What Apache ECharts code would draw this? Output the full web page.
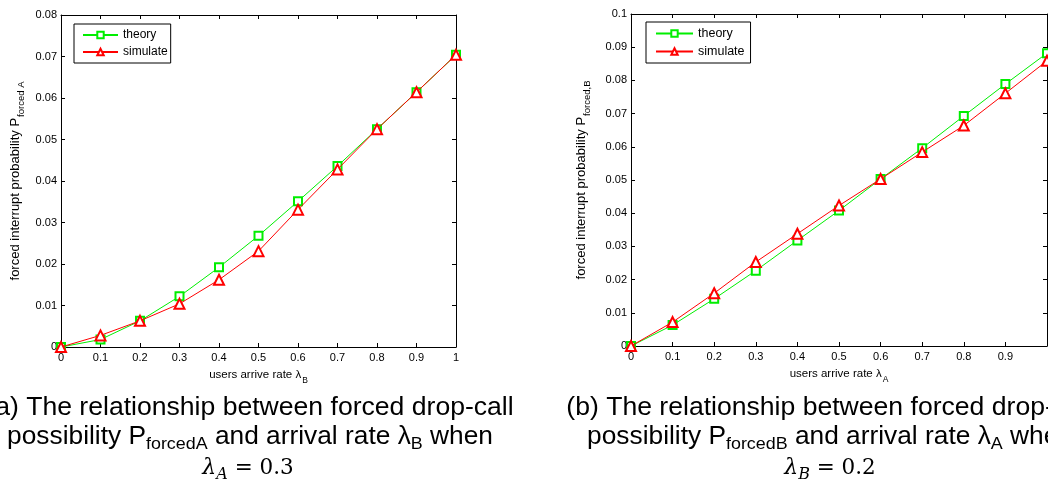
<!DOCTYPE html>
<html>
<head>
<meta charset="utf-8">
<script src="https://cdn.jsdelivr.net/npm/echarts@6/dist/echarts.min.js"></script>
<style>
html,body{margin:0;padding:0;background:#fff;}
#chart{width:1048px;height:483px;}
</style>
</head>
<body>
<div id="chart"></div>
<script>
// ---------- data ----------
const xValues = [0, 0.1, 0.2, 0.3, 0.4, 0.5, 0.6, 0.7, 0.8, 0.9, 1];
// (a) P_forcedA vs lambda_B
const theoryA   = [0, 0.0018, 0.0063, 0.0122, 0.0192, 0.0268, 0.0351, 0.0436, 0.0525, 0.0614, 0.0704];
const simulateA = [0, 0.0028, 0.0063, 0.0104, 0.0162, 0.0231, 0.0331, 0.0428, 0.0525, 0.0614, 0.0704];
// (b) P_forcedB vs lambda_A
const theoryB   = [0, 0.0063, 0.0142, 0.0227, 0.0318, 0.0408, 0.0503, 0.0596, 0.0693, 0.0789, 0.0882];
const simulateB = [0, 0.0072, 0.0159, 0.0253, 0.0338, 0.0423, 0.0503, 0.0584, 0.0664, 0.0761, 0.0859];
const seriesNames = ['theory', 'simulate'];
const xRange = [0, 1, 0.1];
const yRangeA = [0, 0.08, 0.01];
const yRangeB = [0, 0.1, 0.01];

// ---------- style ----------
const SANS = "'Liberation Sans', Arial, sans-serif";
const SERIF = "'DejaVu Serif', 'Liberation Serif', serif";
const GREEN = '#00ee00';
const RED = '#ff0000';

function pairs(xs, ys) { return xs.map((x, i) => [x, ys[i]]); }

const tickStyle = { show: true, inside: true, length: 4, lineStyle: { color: '#000', width: 1 } };
const lineStyleAxis = { show: true, onZero: false, lineStyle: { color: '#000', width: 1 } };

function xAxes(gi, name, sub, gap, hideMax) {
  return [
    {
      type: 'value', gridIndex: gi, position: 'bottom',
      min: xRange[0], max: xRange[1], interval: xRange[2],
      axisLine: lineStyleAxis, axisTick: tickStyle, splitLine: { show: false },
      axisLabel: { color: '#000', fontSize: 11, fontFamily: SANS, margin: 5, showMaxLabel: !hideMax },
      name: '{m|' + name + '}{s|' + sub + '}', nameLocation: 'middle', nameGap: gap,
      nameTextStyle: {
        color: '#000', fontFamily: SANS,
        rich: {
          m: { fontSize: 11.5, verticalAlign: 'top', fontFamily: SANS, color: '#000' },
          s: { fontSize: 8.5, verticalAlign: 'top', padding: [7.5, 0, 0, 1], fontFamily: SANS, color: '#000' }
        }
      }
    },
    {
      type: 'value', gridIndex: gi, position: 'top',
      min: xRange[0], max: xRange[1], interval: xRange[2],
      axisLine: lineStyleAxis, axisTick: tickStyle, splitLine: { show: false },
      axisLabel: { show: false }
    }
  ];
}

function yAxes(gi, range, name, sub, gap) {
  return [
    {
      type: 'value', gridIndex: gi, position: 'left',
      min: range[0], max: range[1], interval: range[2],
      axisLine: lineStyleAxis, axisTick: tickStyle, splitLine: { show: false },
      axisLabel: { color: '#000', fontSize: 11, fontFamily: SANS, margin: 4 },
      name: '{m|' + name + '}{s|' + sub + '}', nameLocation: 'middle', nameGap: gap,
      nameTextStyle: {
        color: '#000', fontFamily: SANS,
        rich: {
          m: { fontSize: 13, verticalAlign: 'top', fontFamily: SANS, color: '#000' },
          s: { fontSize: 9.5, verticalAlign: 'top', padding: [7, 0, 0, 1], fontFamily: SANS, color: '#000' }
        }
      }
    },
    {
      type: 'value', gridIndex: gi, position: 'right',
      min: range[0], max: range[1], interval: range[2],
      axisLine: lineStyleAxis, axisTick: tickStyle, splitLine: { show: false },
      axisLabel: { show: false }
    }
  ];
}

function makeSeries(name, xi, yi, data, color, symbol, size) {
  return {
    name: name, type: 'line', xAxisIndex: xi, yAxisIndex: yi,
    data: pairs(xValues, data),
    symbol: symbol, symbolSize: size, showSymbol: true,
    lineStyle: { color: color, width: 1 },
    itemStyle: { color: color, borderColor: color, borderWidth: 1 },
    animation: false, z: name === 'simulate' ? 3 : 2
  };
}

const chart = echarts.init(document.getElementById('chart'), null, { renderer: 'canvas' });

const capMain = { fontSize: 25, verticalAlign: 'top', fontFamily: SANS, fill: '#000', color: '#000' };
const capSub = { fontSize: 17, verticalAlign: 'top', padding: [11, 0, 0, 0], fontFamily: SANS, fill: '#000', color: '#000' };
const mathMain = { fontSize: 22, verticalAlign: 'top', fontFamily: SERIF, fontStyle: 'italic', fill: '#000', color: '#000' };
const mathSub = { fontSize: 16, verticalAlign: 'top', padding: [10, 0, 0, 0], fontFamily: SERIF, fontStyle: 'italic', fill: '#000', color: '#000' };
const mathRest = { fontSize: 21.5, verticalAlign: 'top', fontFamily: SERIF, fill: '#000', color: '#000' };

function captionText(x, y, text, sx) {
  return {
    type: 'text', x: x, y: y, scaleX: sx, silent: true,
    style: {
      text: text, align: 'center', verticalAlign: 'top',
      textAlign: 'center', textVerticalAlign: 'top',
      fontSize: 25, fontFamily: SANS, fill: '#000',
      rich: { m: capMain, s: capSub, lm: mathMain, ls: mathSub, lr: mathRest }
    }
  };
}

const option = {
  backgroundColor: '#fff',
  animation: false,
  grid: [
    { left: 61, top: 15, width: 395, height: 332, outerBoundsMode: 'none', containLabel: false },
    { left: 631, top: 14, width: 416, height: 332, outerBoundsMode: 'none', containLabel: false }
  ],
  xAxis: [].concat(
    xAxes(0, 'users arrive rate \u03bb', 'B', 22, false),
    xAxes(1, 'users arrive rate \u03bb', 'A', 21.5, true)
  ),
  yAxis: [].concat(
    yAxes(0, yRangeA, 'forced interrupt probability P', 'forced A', 35),
    yAxes(1, yRangeB, 'forced interrupt probability P', 'forced,B', 39)
  ),
  legend: [
    {
      data: seriesNames, orient: 'vertical', left: 74, top: 24,
      itemWidth: 35, itemHeight: 8, itemGap: 5,
      padding: [5, 3, 5, 8],
      backgroundColor: '#fff', borderColor: '#000', borderWidth: 1,
      textStyle: { color: '#000', fontSize: 12, fontFamily: SANS },
      selectedMode: false
    },
    {
      data: seriesNames, orient: 'vertical', left: 646, top: 22,
      itemWidth: 37, itemHeight: 8, itemGap: 5,
      padding: [5, 6, 5, 9],
      backgroundColor: '#fff', borderColor: '#000', borderWidth: 1,
      textStyle: { color: '#000', fontSize: 12.5, fontFamily: SANS },
      selectedMode: false
    }
  ],
  series: [
    makeSeries(seriesNames[0], 0, 0, theoryA, GREEN, 'emptyRect', 8),
    makeSeries(seriesNames[1], 0, 0, simulateA, RED, 'emptyTriangle', 10),
    makeSeries(seriesNames[0], 2, 2, theoryB, GREEN, 'emptyRect', 8),
    makeSeries(seriesNames[1], 2, 2, simulateB, RED, 'emptyTriangle', 10)
  ],
  graphic: [
    captionText(250, 396, '{m|(a) The relationship between forced drop-call}', 1.063),
    captionText(250, 425, '{m|possibility P}{s|forcedA}{m| and arrival rate \u03bb}{s|B}{m| when}', 1.052),
    captionText(248, 457, '{lm|\u03bb}{ls|A}{lr| = 0.3}', 1),
    captionText(830, 396, '{m|(b) The relationship between forced drop-call}', 1.063),
    captionText(830, 425, '{m|possibility P}{s|forcedB}{m| and arrival rate \u03bb}{s|A}{m| when}', 1.052),
    captionText(830, 457, '{lm|\u03bb}{ls|B}{lr| = 0.2}', 1)
  ]
};
chart.setOption(option);
</script>
</body>
</html>
